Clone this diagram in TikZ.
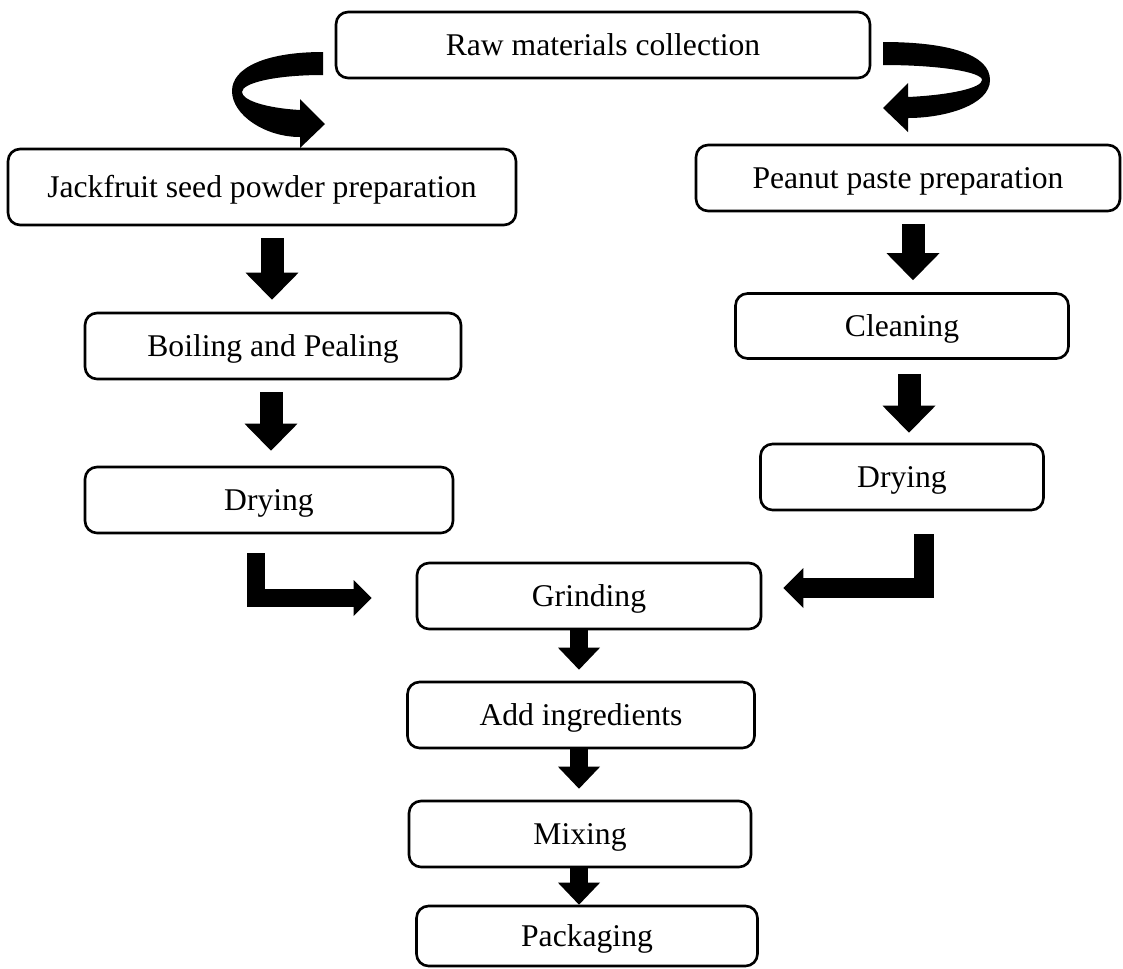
\documentclass[tikz,border=0pt]{standalone}
\usepackage{fontspec}
\setmainfont{Liberation Serif}
\usetikzlibrary{arrows.meta}

\begin{document}
\begin{tikzpicture}[x=0.02cm,y=-0.02cm,
        stage/.style={draw,line width=1.5pt,rounded corners=0.24cm,minimum height=1.32cm,inner sep=0pt,
                font=\fontsize{18}{22}\selectfont,text height=0.42cm,text depth=0pt},
        fatarrow/.style={line width=0.46cm,-{Triangle[width=1.06cm,length=0.54cm,line width=0pt]},
                shorten <=0.24cm,shorten >=0.24cm},
        midarrow/.style={line width=0.36cm,-{Triangle[width=0.84cm,length=0.44cm,line width=0pt]},
                shorten >=0.22cm},
        bentarrow/.style={line width=#1,-{Triangle[width=2*#1,length=#1,line width=0pt]}}]

        \useasboundingbox (0,0) rectangle (1123,968);

        % the boxes
        \node[stage,minimum width=10.68cm] (raw) at (603,45) {Raw materials collection};
        \node[stage,minimum width=10.16cm,minimum height=1.52cm] (jack) at (262,187) {Jackfruit seed powder preparation};
        \node[stage,minimum width=8.48cm] (peanut) at (908,178) {Peanut paste preparation};
        \node[stage,minimum width=7.52cm] (boil) at (273,346) {Boiling and Pealing};
        \node[stage,minimum width=6.66cm,minimum height=1.30cm] (clean) at (902,326) {Cleaning};
        \node[stage,minimum width=7.36cm] (dryL) at (269,500) {Drying};
        \node[stage,minimum width=5.66cm] (dryR) at (902,477) {Drying};
        \node[stage,minimum width=6.88cm] (grind) at (589,596) {Grinding};
        \node[stage,minimum width=6.94cm] (add) at (581,715) {Add ingredients};
        \node[stage,minimum width=6.84cm] (mix) at (580,834) {Mixing};
        \node[stage,minimum width=6.82cm,minimum height=1.20cm] (pack) at (587,936) {Packaging};

        % curved arrows out of the first box
        \fill (323,52) .. controls (265,52) and (232,68) .. (232,91)
                .. controls (232,115) and (265,137) .. (300,137)
                -- (300,148) -- (325,124) -- (300,99) -- (300,110)
                .. controls (265,108) and (242,100) .. (242,92)
                .. controls (242,83) and (275,75) .. (323,75) -- cycle;
        \fill (883,42) .. controls (950,42) and (990,55) .. (990,80)
                .. controls (990,105) and (945,118) .. (908,118)
                -- (908,132) -- (883,108) -- (908,83) -- (908,97)
                .. controls (950,95) and (982,88) .. (982,80)
                .. controls (982,72) and (940,65) .. (883,65) -- cycle;

        % straight arrows
        \draw[fatarrow] (jack.south -| 272,0) -- (boil.north -| 272,0);
        \draw[fatarrow,shorten >=0.3cm] (boil.south -| 271,0) -- (dryL.north -| 271,0);
        \draw[fatarrow] (peanut.south -| 913,0) -- (clean.north -| 913,0);
        \draw[fatarrow,shorten <=0.28cm,shorten >=0.2cm] (clean.south -| 909,0) -- (dryR.north -| 909,0);

        % bent arrows into grinding
        \draw[bentarrow=0.36cm,shorten <=0.38cm,shorten >=0.88cm] (dryL.south -| 256,0) |- (grind.west |- 0,598);
        \draw[bentarrow=0.40cm,shorten <=0.46cm,shorten >=0.42cm] (dryR.south -| 924,0) |- (grind.east |- 0,588);

        \draw[midarrow] (grind.south -| 579,0) -- (add.north -| 579,0);
        \draw[midarrow] (add.south -| 579,0) -- (mix.north -| 579,0);
        \draw[midarrow,shorten >=0pt] (mix.south -| 579,0) -- (pack.north -| 579,0);

\end{tikzpicture}
\end{document}
